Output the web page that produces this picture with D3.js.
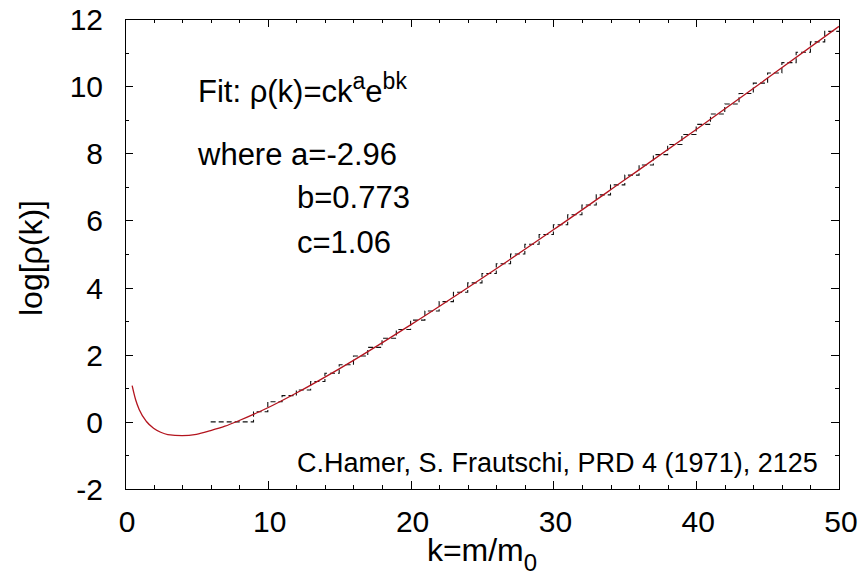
<!DOCTYPE html>
<html>
<head>
<meta charset="utf-8">
<script src="https://cdn.jsdelivr.net/npm/d3@7"></script>
<style>
  body { margin: 0; background: #fff; }
  svg text { font-family: "Liberation Sans", Arial, sans-serif; fill: #000; }
</style>
</head>
<body>
<div id="container"></div>
<script>
// fit curve log10[rho(k)]
var fitK = [0.5, 0.75, 1, 1.5, 2, 2.5, 3, 4, 5, 6, 7, 8, 10, 12, 15, 20, 25, 30, 35, 40, 45, 50];
var fitY = [1.08, 0.65, 0.36, 0.01, -0.19, -0.31, -0.38, -0.41, -0.37, -0.26, -0.13, 0.04,
            0.42, 0.86, 1.58, 2.89, 4.28, 5.72, 7.21, 8.71, 10.24, 11.78];

// counted states (dashed staircase), value holds from k to next k
var stepK = [6, 9, 10, 11, 12, 13, 14, 15, 16, 17, 18, 19, 20, 21, 22, 23, 24, 25, 26, 27, 28,
             29, 30, 31, 32, 33, 34, 35, 36, 37, 38, 39, 40, 41, 42, 43, 44, 45, 46, 47, 48, 49, 50];
var stepY = [0, 0.30, 0.60, 0.78, 0.95, 1.20, 1.45, 1.70, 1.96, 2.22, 2.49,
             2.75, 3.03, 3.30, 3.58, 3.86, 4.14, 4.42, 4.71, 5.00, 5.29,
             5.58, 5.87, 6.17, 6.46, 6.76, 7.06, 7.35, 7.65, 7.96, 8.26,
             8.56, 8.86, 9.17, 9.47, 9.78, 10.09, 10.39, 10.70, 11.01, 11.32, 11.63, 11.63];

var xTicks = [0, 10, 20, 30, 40, 50];
var yTicks = [-2, 0, 2, 4, 6, 8, 10, 12];
var xMinor = [2, 4, 6, 8, 12, 14, 16, 18, 22, 24, 26, 28, 32, 34, 36, 38, 42, 44, 46, 48];
var yMinor = [-1, 1, 3, 5, 7, 9, 11];

var W = 863, H = 575;
// plot box (note: "top" is reserved on window, so use pTop etc.)
var pLeft = 125, pRight = 839, pTop = 19, pBottom = 489;

var svg = d3.select('#container').append('svg')
  .attr('width', W).attr('height', H);

var x = d3.scaleLinear().domain([0, 50]).range([pLeft, pRight]);
var y = d3.scaleLinear().domain([-2, 12]).range([pBottom, pTop]);

svg.append('clipPath').attr('id', 'plotclip')
  .append('rect').attr('x', pLeft).attr('y', pTop)
  .attr('width', pRight - pLeft).attr('height', pBottom - pTop);

// ticks on all four sides (gnuplot style, pointing inward)
function drawTicks(vals, len) {
  var g = svg.append('g').attr('stroke', '#000').attr('stroke-width', 1);
  vals.x.forEach(function(v) {
    var px = Math.round(x(v)) + 0.5;
    g.append('line').attr('x1', px).attr('x2', px).attr('y1', pBottom).attr('y2', pBottom - len);
    g.append('line').attr('x1', px).attr('x2', px).attr('y1', pTop).attr('y2', pTop + len);
  });
  vals.y.forEach(function(v) {
    var py = Math.round(y(v)) + 0.5;
    g.append('line').attr('x1', pLeft).attr('x2', pLeft + len).attr('y1', py).attr('y2', py);
    g.append('line').attr('x1', pRight).attr('x2', pRight - len).attr('y1', py).attr('y2', py);
  });
}
drawTicks({x: xTicks, y: yTicks}, 8);
drawTicks({x: xMinor, y: yMinor}, 4);

// tick labels
svg.selectAll('.xl').data(xTicks).enter().append('text')
  .attr('x', function(d) { return x(d) + 2; })
  .attr('y', 532)
  .attr('text-anchor', 'middle')
  .style('font-size', '30px')
  .text(function(d) { return d; });

svg.selectAll('.yl').data(yTicks).enter().append('text')
  .attr('x', pLeft - 22)
  .attr('y', function(d) { return y(d) + 11; })
  .attr('text-anchor', 'end')
  .style('font-size', '30px')
  .text(function(d) { return d; });

// axis titles
var xt = svg.append('text')
  .attr('x', 482).attr('y', 561)
  .attr('text-anchor', 'middle')
  .style('font-size', '32px');
xt.append('tspan').text('k=m/m');
xt.append('tspan').attr('dy', 10).style('font-size', '24px').text('0');

svg.append('text')
  .attr('transform', 'translate(42,258) rotate(-90)')
  .attr('text-anchor', 'middle')
  .style('font-size', '32px')
  .text('log[\u03c1(k)]');

// staircase data
var stepLine = d3.line()
  .x(function(d) { return x(d[0]); })
  .y(function(d) { return y(d[1]); })
  .curve(d3.curveStepAfter);

svg.append('path')
  .datum(d3.zip(stepK, stepY))
  .attr('d', stepLine)
  .attr('fill', 'none')
  .attr('stroke', '#111')
  .attr('stroke-width', 1.1)
  .attr('stroke-dasharray', '5,3')
  .attr('clip-path', 'url(#plotclip)');

// fit curve
var fitLine = d3.line()
  .x(function(d) { return x(d[0]); })
  .y(function(d) { return y(d[1]); })
  .curve(d3.curveMonotoneX);

svg.append('path')
  .datum(d3.zip(fitK, fitY))
  .attr('d', fitLine)
  .attr('fill', 'none')
  .attr('stroke', '#b3141e')
  .attr('stroke-width', 1.3)
  .attr('clip-path', 'url(#plotclip)');

// frame
svg.append('rect')
  .attr('x', pLeft + 0.5).attr('y', pTop + 0.5)
  .attr('width', pRight - pLeft).attr('height', pBottom - pTop)
  .attr('fill', 'none').attr('stroke', '#000').attr('stroke-width', 1);

// annotations
var fit = svg.append('text').attr('x', 198).attr('y', 102).style('font-size', '31px');
fit.append('tspan').text('Fit: \u03c1(k)=ck');
fit.append('tspan').attr('dy', -13).style('font-size', '23px').text('a');
fit.append('tspan').attr('dy', 13).text('e');
fit.append('tspan').attr('dy', -13).style('font-size', '23px').text('bk');

svg.append('text').attr('x', 198).attr('y', 165).style('font-size', '31px').text('where a=-2.96');
svg.append('text').attr('x', 297).attr('y', 208).style('font-size', '31px').text('b=0.773');
svg.append('text').attr('x', 297).attr('y', 253).style('font-size', '31px').text('c=1.06');

svg.append('text').attr('x', 297).attr('y', 472).style('font-size', '27px')
  .text('C.Hamer, S. Frautschi, PRD 4 (1971), 2125');
</script>
</body>
</html>
